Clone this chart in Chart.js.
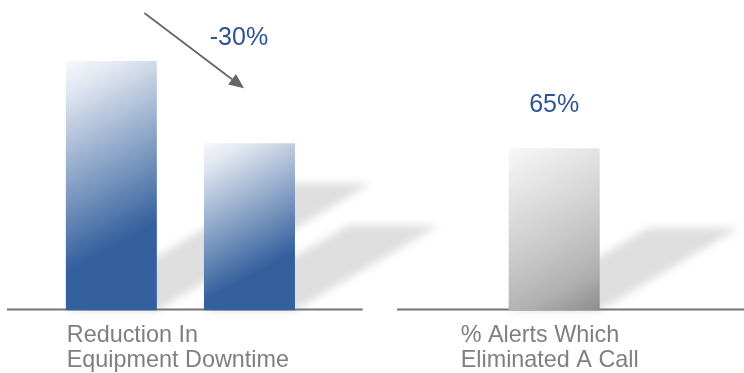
<!DOCTYPE html>
<html>
<head>
<meta charset="utf-8">
<script src="https://cdn.jsdelivr.net/npm/chart.js@4.4.1/dist/chart.umd.min.js"></script>
<style>
  html, body { margin: 0; padding: 0; background: #fff; }
  #wrap { position: relative; width: 744px; height: 373px; overflow: hidden; }
  #left { position: absolute; left: 0; top: 0; }
  #right { position: absolute; left: 372px; top: 0; }
</style>
</head>
<body>
<div id="wrap">
  <canvas id="left" width="480" height="373"></canvas>
  <canvas id="right" width="372" height="373"></canvas>
</div>
<script>
// valores
const downtimeValues = [100, 67];
const alertValues = [65];
const downtimeCaption = ['Reduction In', 'Equipment Downtime'];
const alertCaption = ['% Alerts Which', 'Eliminated A Call'];
const downtimeChange = '-30%';
const alertShare = '65%';
const yMax = 120;

const FONT = '"Liberation Sans", Arial, sans-serif';
const BAR_PCT = 0.659;

// gradiente de cada barra, calculado pelas escalas
function barGradient(ctx, kind) {
  const chart = ctx.chart;
  const { x, y } = chart.scales;
  if (!chart.chartArea || !x || !y) return kind === 'blue' ? '#34609d' : '#bbbbbb';
  const w = (x.width / chart.data.labels.length) * BAR_PCT;
  const left = x.getPixelForValue(ctx.dataIndex) - w / 2;
  const top = y.getPixelForValue(ctx.raw);
  const bottom = y.getPixelForValue(0);
  const h = bottom - top;
  let g;
  if (kind === 'blue') {
    const L = 0.48 * w + 0.57 * h;
    g = chart.ctx.createLinearGradient(left, top, left + 0.48 * L, top + 0.877 * L);
    g.addColorStop(0, '#f7f9fc');
    g.addColorStop(0.15, '#e2e8f1');
    g.addColorStop(1, '#34609d');
  } else {
    g = chart.ctx.createLinearGradient(left, top, left + w, bottom);
    g.addColorStop(0, '#f8f8f8');
    g.addColorStop(0.55, '#c9c9c9');
    g.addColorStop(0.8, '#b0b0b0');
    g.addColorStop(1, '#8c8c8c');
  }
  return g;
}

// sombra inclinada + linha de base
const shadowPlugin = {
  id: 'barShadow',
  beforeDatasetsDraw(chart, args, opts) {
    const ctx = chart.ctx;
    const meta = chart.getDatasetMeta(0);
    ctx.save();
    ctx.filter = 'blur(4px)';
    ctx.fillStyle = 'rgba(0,0,0,0.13)';
    meta.data.forEach(bar => {
      const h = bar.base - bar.y;
      const l = bar.x - bar.width / 2, r = bar.x + bar.width / 2;
      const dx = h * 0.86, dy = h * 0.51;
      ctx.beginPath();
      ctx.moveTo(l, bar.base);
      ctx.lineTo(r, bar.base);
      ctx.lineTo(r + dx, bar.base - dy);
      ctx.lineTo(l + dx, bar.base - dy);
      ctx.closePath();
      ctx.fill();
    });
    ctx.restore();

    const area = chart.chartArea;
    const base = chart.scales.y.getPixelForValue(0) - 1;
    ctx.save();
    ctx.strokeStyle = '#747474';
    ctx.lineWidth = 2;
    ctx.beginPath();
    ctx.moveTo(area.left - opts.extLeft, base);
    ctx.lineTo(area.right + opts.extRight, base);
    ctx.stroke();
    ctx.restore();
  }
};

// rótulos de categoria embaixo
const captionPlugin = {
  id: 'caption',
  afterDraw(chart, args, opts) {
    const ctx = chart.ctx;
    const area = chart.chartArea;
    const base = chart.scales.y.getPixelForValue(0);
    ctx.save();
    ctx.font = '23.4px ' + FONT;
    ctx.fillStyle = '#7f7f7f';
    ctx.textBaseline = 'alphabetic';
    const widest = Math.max(...opts.lines.map(s => ctx.measureText(s).width));
    const x0 = (area.left + area.right) / 2 - widest / 2 + opts.dx;
    opts.lines.forEach((s, i) => ctx.fillText(s, x0, base + 31.5 + i * 25));
    ctx.restore();
  }
};

// texto azul e seta
const notePlugin = {
  id: 'note',
  afterDatasetsDraw(chart, args, opts) {
    const ctx = chart.ctx;
    const bars = chart.getDatasetMeta(0).data;
    ctx.save();
    if (opts.arrow) {
      const a = bars[0], b = bars[1];
      const sx = a.x + 33, sy = a.y - 48;
      const tx = b.x - 5.5, ty = b.y - 55;
      const ang = Math.atan2(ty - sy, tx - sx);
      const len = 15, half = 6.5;
      const bx = tx - len * Math.cos(ang), by = ty - len * Math.sin(ang);
      ctx.strokeStyle = '#666666';
      ctx.fillStyle = '#666666';
      ctx.lineWidth = 1.8;
      ctx.beginPath();
      ctx.moveTo(sx, sy);
      ctx.lineTo(bx, by);
      ctx.stroke();
      ctx.beginPath();
      ctx.moveTo(tx, ty);
      ctx.lineTo(bx + half * Math.sin(ang), by - half * Math.cos(ang));
      ctx.lineTo(bx - half * Math.sin(ang), by + half * Math.cos(ang));
      ctx.closePath();
      ctx.fill();
    }
    const ref = bars[opts.index];
    ctx.font = '25px ' + FONT;
    ctx.fillStyle = '#2e5296';
    ctx.textAlign = 'center';
    ctx.textBaseline = 'alphabetic';
    ctx.fillText(opts.text, ref.x + opts.dx, ref.y + opts.dy);
    ctx.restore();
  }
};

function baseOptions(padding) {
  return {
    responsive: false,
    animation: false,
    layout: { padding: padding },
    scales: {
      x: { display: false, grid: { display: false } },
      y: { display: false, min: 0, max: yMax, grid: { display: false } }
    },
    plugins: { legend: { display: false }, tooltip: { enabled: false } }
  };
}

const leftOpts = baseOptions({ left: 42.3, right: 161.5, top: 11, bottom: 62.5 });
leftOpts.plugins.barShadow = { extLeft: 35.3, extRight: 44.2 };
leftOpts.plugins.caption = { lines: downtimeCaption, dx: -2.5 };
leftOpts.plugins.note = { text: downtimeChange, index: 1, dx: -10.5, dy: -98, arrow: true };

new Chart(document.getElementById('left'), {
  type: 'bar',
  data: {
    labels: downtimeValues.map(() => ''),
    datasets: [{
      data: downtimeValues,
      backgroundColor: ctx => barGradient(ctx, 'blue'),
      borderWidth: 0,
      barPercentage: BAR_PCT,
      categoryPercentage: 1
    }]
  },
  options: leftOpts,
  plugins: [shadowPlugin, notePlugin, captionPlugin]
});

const rightOpts = baseOptions({ left: 113.1, right: 120.7, top: 11, bottom: 62.5 });
rightOpts.plugins.barShadow = { extLeft: 88, extRight: 121 };
rightOpts.plugins.caption = { lines: alertCaption, dx: -4.5 };
rightOpts.plugins.note = { text: alertShare, index: 0, dx: 0, dy: -36, arrow: false };

new Chart(document.getElementById('right'), {
  type: 'bar',
  data: {
    labels: alertValues.map(() => ''),
    datasets: [{
      data: alertValues,
      backgroundColor: ctx => barGradient(ctx, 'gray'),
      borderWidth: 0,
      barPercentage: BAR_PCT,
      categoryPercentage: 1
    }]
  },
  options: rightOpts,
  plugins: [shadowPlugin, notePlugin, captionPlugin]
});
</script>
</body>
</html>
